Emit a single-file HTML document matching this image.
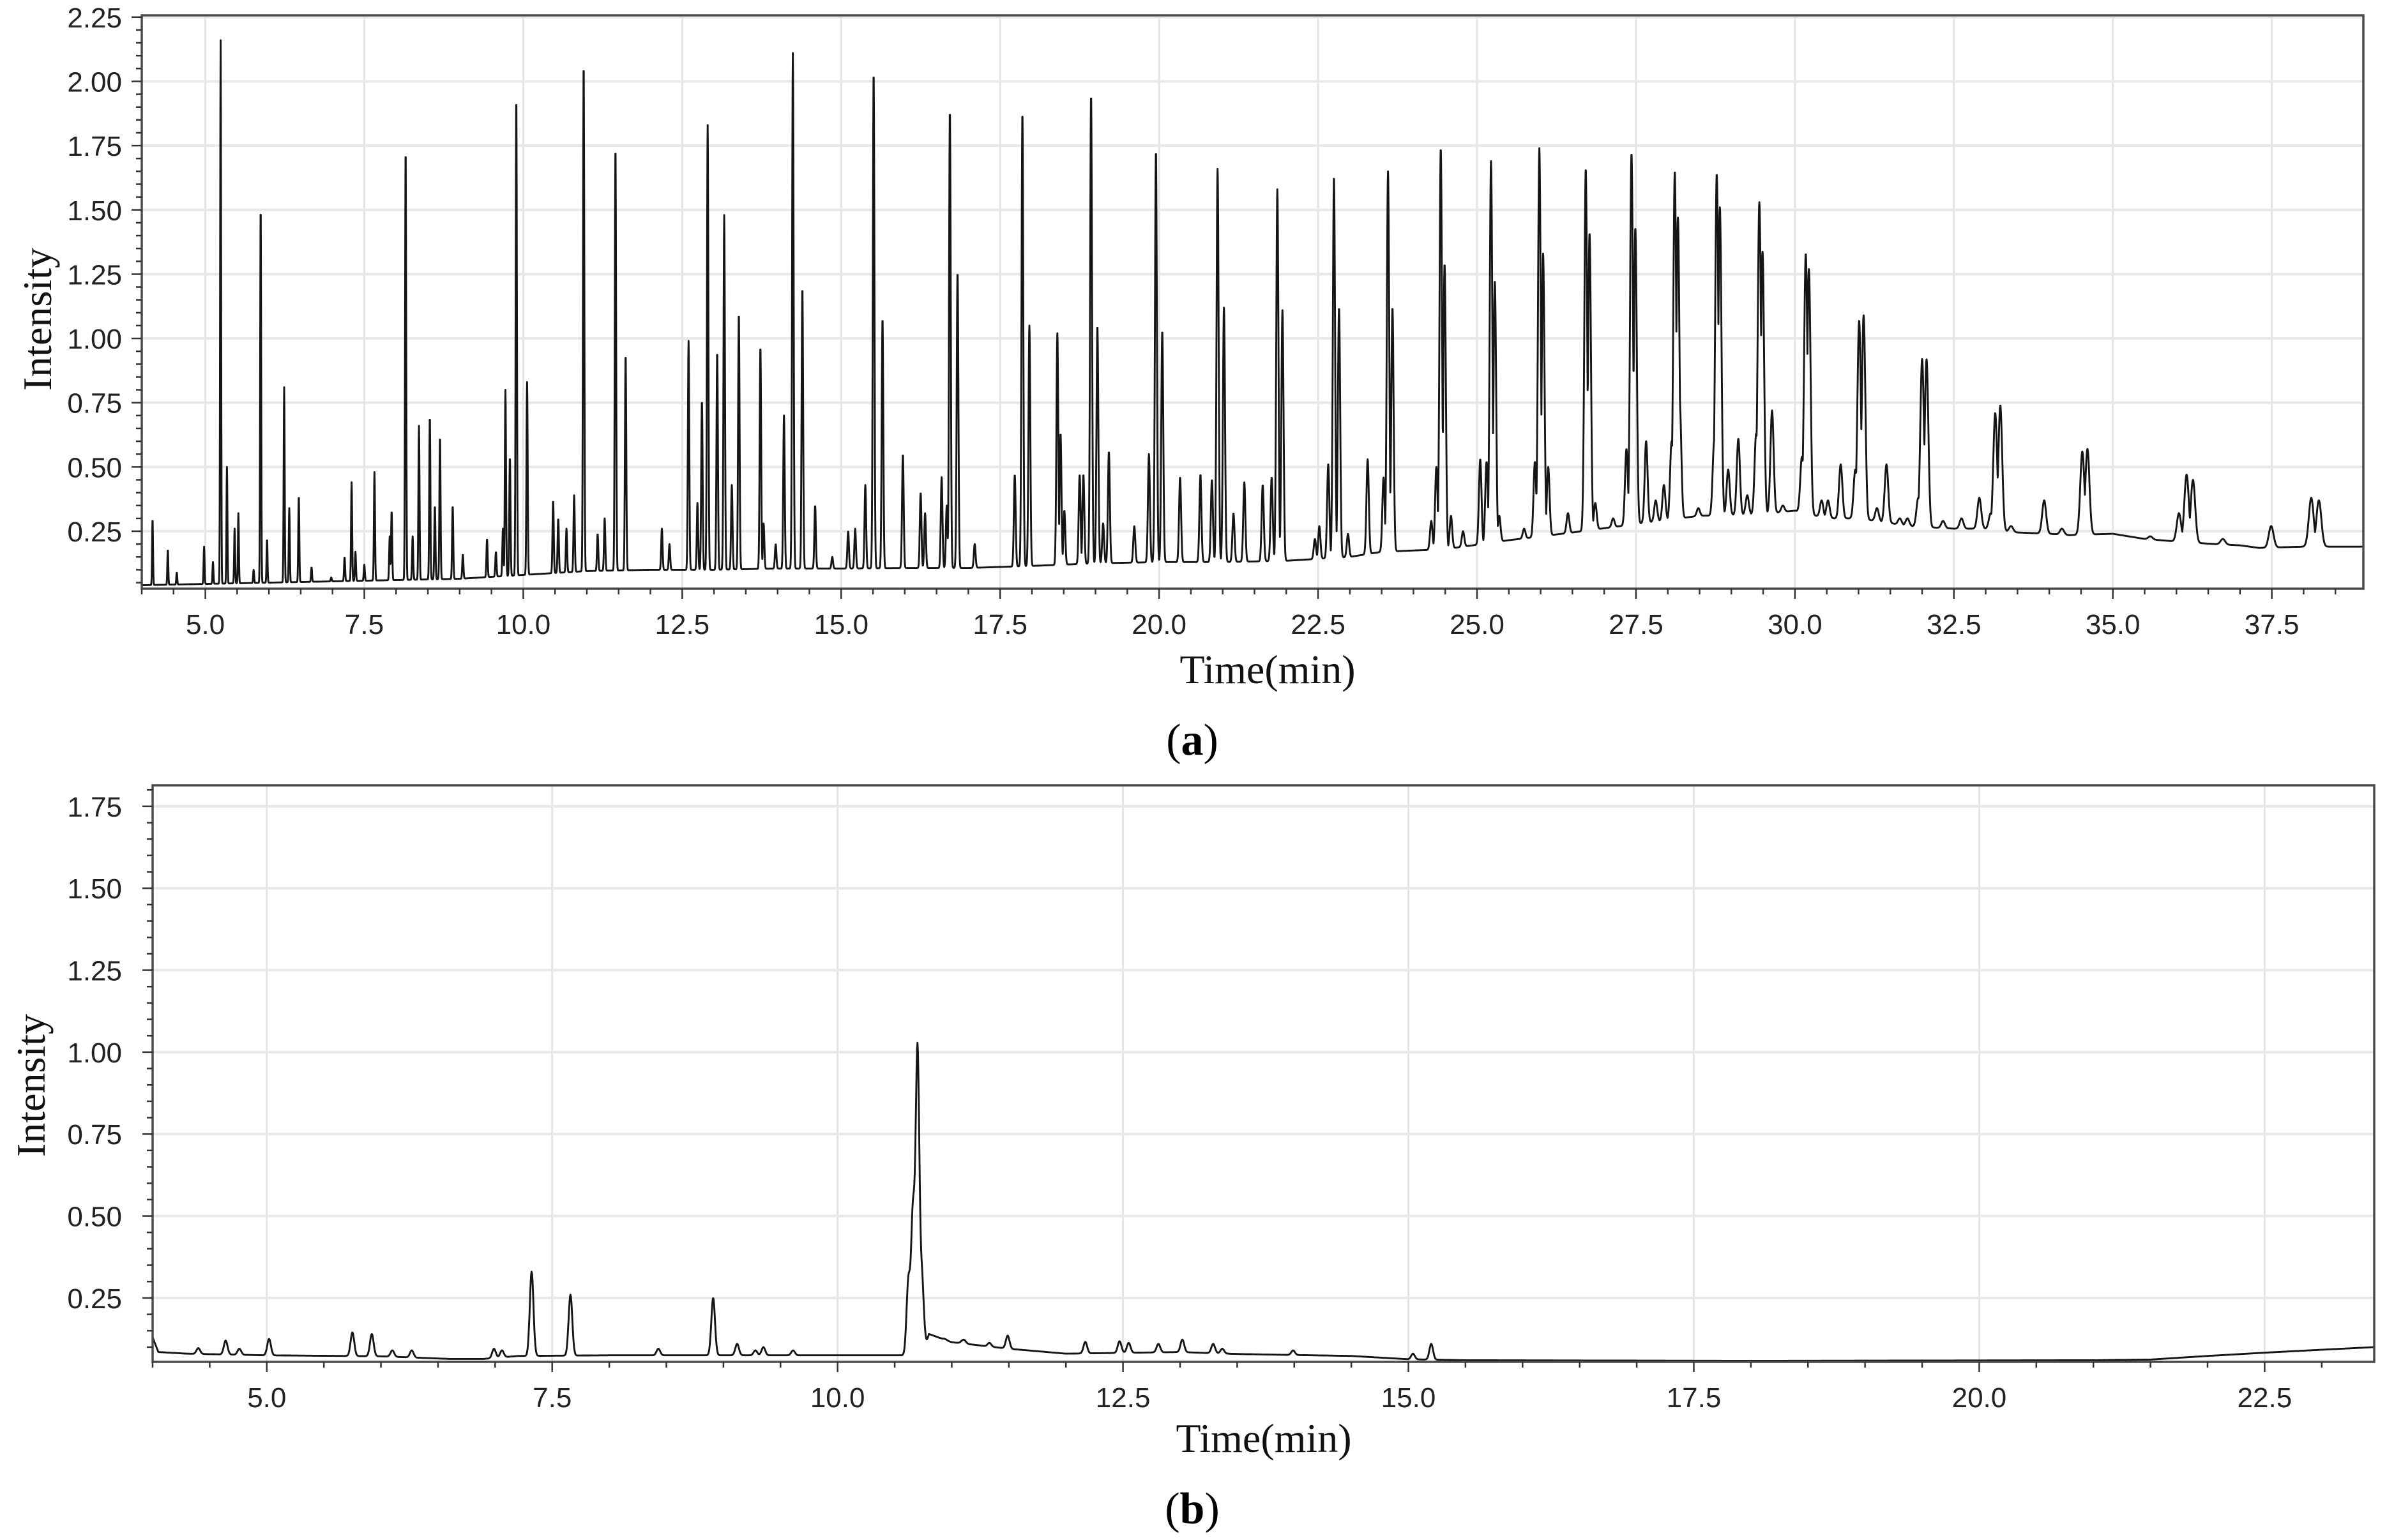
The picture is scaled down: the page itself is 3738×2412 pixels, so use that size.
<!DOCTYPE html>
<html><head><meta charset="utf-8"><title>Chromatograms</title>
<style>
html,body{margin:0;padding:0;background:#fff;}
svg{display:block;}
.tk{font-family:"Liberation Sans",Arial,sans-serif;font-size:44px;fill:#222;}
.ttl{font-family:"Liberation Serif","Times New Roman",serif;font-size:64px;fill:#111;}
.cap{font-family:"Liberation Serif","Times New Roman",serif;font-size:70px;fill:#000;}
</style></head>
<body>
<svg id="fig" width="3738" height="2412" viewBox="0 0 3738 2412" xmlns="http://www.w3.org/2000/svg">
<rect x="0" y="0" width="3738" height="2412" fill="#fff"/>
<g id="panelA"></g>
<g id="panelB"></g>
<text class="ttl" x="1985" y="1070" text-anchor="middle">Time(min)</text>
<text class="cap" x="1867" y="1182" text-anchor="middle">(<tspan font-weight="bold">a</tspan>)</text>
<text class="ttl" transform="translate(80,500) rotate(-90)" text-anchor="middle">Intensity</text>
<text class="ttl" x="1979" y="2274" text-anchor="middle">Time(min)</text>
<text class="cap" x="1867" y="2386" text-anchor="middle">(<tspan font-weight="bold">b</tspan>)</text>
<text class="ttl" transform="translate(70,1700) rotate(-90)" text-anchor="middle">Intensity</text>
</svg>
<script>
// ---------- Panel A data ----------
const aXTicks = [5.0,7.5,10.0,12.5,15.0,17.5,20.0,22.5,25.0,27.5,30.0,32.5,35.0,37.5];
const aXTickLabels = ["5.0","7.5","10.0","12.5","15.0","17.5","20.0","22.5","25.0","27.5","30.0","32.5","35.0","37.5"];
const aYTicks = [0.25,0.50,0.75,1.00,1.25,1.50,1.75,2.00,2.25];
const aYTickLabels = ["0.25","0.50","0.75","1.00","1.25","1.50","1.75","2.00","2.25"];
const aBaseT = [4,5,6,7,8,9,10,11,12,13,14,15,16,17,18,19,20,21,22,23,23.5,24.5,25.5,26.5,27.8,28.5,29.5,30,30.5,31,31.8,32.5,33,33.5,34,34.3,35,35.5,36,36.6,37,37.3,38,38.94];
const aBaseV = [0.04,0.045,0.05,0.055,0.06,0.065,0.08,0.095,0.1,0.1,0.105,0.105,0.107,0.107,0.115,0.125,0.13,0.13,0.135,0.15,0.17,0.18,0.215,0.245,0.288,0.31,0.317,0.33,0.3,0.3,0.27,0.26,0.26,0.245,0.24,0.235,0.24,0.22,0.21,0.2,0.195,0.185,0.19,0.19];
const aPeakT = [4.17,4.41,4.55,4.98,5.12,5.24,5.34,5.46,5.52,5.76,5.87,5.97,6.24,6.32,6.47,6.67,6.98,7.19,7.30,7.36,7.50,7.66,7.90,7.93,8.15,8.26,8.36,8.53,8.61,8.69,8.89,9.05,9.43,9.57,9.68,9.72,9.79,9.89,10.06,10.47,10.55,10.68,10.80,10.95,11.17,11.28,11.45,11.61,12.18,12.30,12.60,12.74,12.81,12.90,13.05,13.16,13.28,13.39,13.73,13.78,13.97,14.10,14.24,14.39,14.59,14.86,15.11,15.22,15.38,15.51,15.65,15.97,16.25,16.32,16.58,16.66,16.71,16.83,17.10,17.73,17.85,17.96,18.40,18.45,18.51,18.75,18.81,18.93,19.03,19.12,19.21,19.61,19.84,19.95,20.05,20.33,20.65,20.83,20.92,21.02,21.17,21.34,21.63,21.77,21.86,21.94,22.45,22.52,22.66,22.75,22.83,22.97,23.28,23.53,23.60,23.67,24.28,24.36,24.43,24.49,24.59,24.78,25.05,25.15,25.22,25.28,25.35,25.74,25.91,25.98,26.04,26.12,26.43,26.71,26.77,26.86,27.14,27.35,27.43,27.49,27.66,27.81,27.94,28.06,28.11,28.16,28.19,28.48,28.73,28.77,28.82,28.95,29.11,29.25,29.39,29.44,29.49,29.64,29.81,30.11,30.17,30.22,30.42,30.52,30.72,30.95,31.01,31.08,31.29,31.44,31.65,31.77,31.94,32.00,32.07,32.33,32.62,32.90,33.08,33.15,33.23,33.40,33.92,34.20,34.52,34.60,35.59,36.04,36.16,36.26,36.73,37.49,38.12,38.24,38.67];
const aPeakV = [0.30,0.18,0.09,0.19,0.13,2.16,0.50,0.26,0.32,0.10,1.53,0.22,0.81,0.34,0.39,0.11,0.07,0.15,0.44,0.17,0.12,0.48,0.23,0.33,1.75,0.23,0.66,0.70,0.35,0.62,0.35,0.16,0.22,0.17,0.26,0.80,0.54,1.95,0.83,0.37,0.30,0.26,0.39,2.08,0.24,0.30,1.75,0.94,0.26,0.20,0.99,0.36,0.76,1.83,0.95,1.48,0.43,1.10,0.97,0.28,0.20,0.70,2.11,1.20,0.35,0.15,0.25,0.26,0.43,2.04,1.08,0.55,0.40,0.32,0.46,0.35,1.89,1.26,0.20,0.47,1.88,1.05,1.02,0.63,0.33,0.47,0.47,1.95,1.05,0.28,0.56,0.27,0.55,1.73,1.03,0.46,0.47,0.45,1.66,1.12,0.32,0.44,0.43,0.46,1.58,1.11,0.22,0.27,0.51,1.63,1.12,0.24,0.53,0.46,1.65,1.12,0.29,0.50,1.74,1.29,0.31,0.25,0.53,0.52,1.69,1.22,0.31,0.26,0.52,1.74,1.33,0.50,0.32,1.66,1.41,0.36,0.30,0.57,1.72,1.43,0.60,0.37,0.43,0.60,1.65,1.47,0.74,0.34,0.60,1.64,1.51,0.49,0.61,0.39,0.63,1.53,1.34,0.72,0.35,0.54,1.33,1.27,0.37,0.37,0.51,0.49,1.07,1.09,0.34,0.51,0.30,0.30,0.38,0.92,0.92,0.29,0.30,0.38,0.32,0.71,0.74,0.27,0.37,0.26,0.56,0.57,0.23,0.32,0.47,0.45,0.22,0.27,0.38,0.37,0.19];

// ---------- Panel B data ----------
const bXTicks = [5.0,7.5,10.0,12.5,15.0,17.5,20.0,22.5];
const bXTickLabels = ["5.0","7.5","10.0","12.5","15.0","17.5","20.0","22.5"];
const bYTicks = [0.25,0.50,0.75,1.00,1.25,1.50,1.75];
const bYTickLabels = ["0.25","0.50","0.75","1.00","1.25","1.50","1.75"];
const bBaseT = [4.0,4.05,4.3,5,6,6.6,6.9,7.2,8,9,10,10.5,10.75,10.8,11.0,11.5,12,13,13.5,14,14.5,15,15.5,18,21,21.5,22,22.5,23,23.46];
const bBaseV = [0.13,0.085,0.08,0.075,0.072,0.064,0.064,0.073,0.075,0.075,0.075,0.075,0.075,0.14,0.115,0.095,0.08,0.085,0.079,0.076,0.073,0.063,0.06,0.058,0.06,0.062,0.073,0.083,0.092,0.10];
const bPeakT = [4.40,4.64,4.76,5.02,5.75,5.92,6.10,6.27,6.99,7.06,7.32,7.66,8.43,8.91,9.12,9.28,9.35,9.61,10.62,10.66,10.70,10.74,10.94,11.09,11.11,11.33,11.49,12.17,12.47,12.55,12.81,13.02,13.29,13.37,13.99,15.04,15.20];
const bPeakV = [0.097,0.12,0.095,0.125,0.145,0.14,0.09,0.09,0.095,0.09,0.33,0.26,0.095,0.25,0.11,0.09,0.10,0.09,0.30,0.50,1.00,0.30,0.125,0.116,0.12,0.113,0.135,0.116,0.118,0.113,0.11,0.123,0.11,0.095,0.09,0.08,0.11];

const NS = "http://www.w3.org/2000/svg";
function scale(d0,d1,r0,r1){return v => r0 + (v-d0)/(d1-d0)*(r1-r0);}
function interp(ts,vs,t){
  if(t<=ts[0]) return vs[0];
  for(let i=1;i<ts.length;i++){ if(t<=ts[i]){const f=(t-ts[i-1])/(ts[i]-ts[i-1]);return vs[i-1]+f*(vs[i]-vs[i-1]);} }
  return vs[vs.length-1];
}
function el(tag,attrs,parent){const e=document.createElementNS(NS,tag);for(const k in attrs)e.setAttribute(k,attrs[k]);parent.appendChild(e);return e;}

function drawPanel(g,cfg){
  const {x,y,x0,x1,y0,y1,xT,xL,yT,yL,bT,bV,pT,pV,sig,step,xMinor,yMinor,name,sum} = cfg;
  const L=x(x0),R=x(x1),T=y(y1),B=y(y0);
  xT.forEach(v=>{
    const l=el('line',{x1:x(v),x2:x(v),y1:T,y2:B,stroke:'#e4e4e4','stroke-width':3},g);
    
    
  });
  yT.forEach(v=>{
    if(y(v)<T+2) return;
    const l=el('line',{x1:L,x2:R,y1:y(v),y2:y(v),stroke:'#e8e8e8','stroke-width':4},g);
    
    
  });
  const amps = pT.map((t,i)=>Math.max(0,pV[i]-interp(bT,bV,t)));
  let d='';
  for(let t=x0;t<=x1+1e-9;t+=step){
    const base=interp(bT,bV,t);
    let add=0;
    for(let i=0;i<pT.length;i++){
      const s=sig(pT[i]);const dt=t-pT[i];
      if(Math.abs(dt)<6*s){const c=amps[i]*Math.exp(-0.5*dt*dt/(s*s)); if(sum) add+=c; else if(c>add) add=c;}
    }
    let v=Math.max(y0,Math.min(y1,base+add));
    d+=(d?'L':'M')+x(t).toFixed(1)+' '+y(v).toFixed(1);
  }
  const p=el('path',{d:d,fill:'none',stroke:'#151515','stroke-width':2.9,'stroke-linejoin':'round'},g);
  
  
  const box=el('rect',{x:L,y:T,width:R-L,height:B-T,fill:'none',stroke:'#4a4a4a','stroke-width':3.5},g);
  
  
  for(let v=Math.ceil(x0/xMinor)*xMinor; v<=x1+1e-9; v+=xMinor){
    const major = Math.abs(v/2.5-Math.round(v/2.5))<1e-6;
    const t=el('line',{x1:x(v),x2:x(v),y1:B,y2:B+(major?16:9),stroke:'#333','stroke-width':2.5},g);
    
    
  }
  xT.forEach((v,i)=>{
    const t=el('text',{x:x(v),y:B+71,'text-anchor':'middle',class:'tk'},g);
    t.textContent=xL[i];
    
    
  });
  for(let v=Math.ceil(y0/yMinor)*yMinor; v<=y1+1e-9; v+=yMinor){
    const major = Math.abs(v/0.25-Math.round(v/0.25))<1e-6;
    const t=el('line',{x1:L,x2:L-(major?16:9),y1:y(v),y2:y(v),stroke:'#333','stroke-width':2.5},g);
    
    
  }
  yT.forEach((v,i)=>{
    const t=el('text',{x:191,y:y(v)+16,'text-anchor':'end',class:'tk'},g);
    t.textContent=yL[i];
    
    
  });
}

drawPanel(document.getElementById('panelA'),{
  name:'panel-a', x:scale(4.0,38.94,222,3701), y:scale(0.0265,2.257,922,24),
  x0:4.0,x1:38.94,y0:0.0265,y1:2.257,
  xT:aXTicks,xL:aXTickLabels,yT:aYTicks,yL:aYTickLabels,
  bT:aBaseT,bV:aBaseV,pT:aPeakT,pV:aPeakV,
  sig:t=>0.007*Math.exp((t-4)/20), step:0.004, xMinor:0.5, yMinor:0.05, sum:false
});
drawPanel(document.getElementById('panelB'),{
  name:'panel-b', x:scale(4.0,23.46,239,3718), y:scale(0.055,1.814,2133,1230),
  x0:4.0,x1:23.46,y0:0.055,y1:1.814,
  xT:bXTicks,xL:bXTickLabels,yT:bYTicks,yL:bYTickLabels,
  bT:bBaseT,bV:bBaseV,pT:bPeakT,pV:bPeakV,
  sig:t=>0.016, step:0.004, xMinor:0.5, yMinor:0.05, sum:true
});
</script>
</body></html>
